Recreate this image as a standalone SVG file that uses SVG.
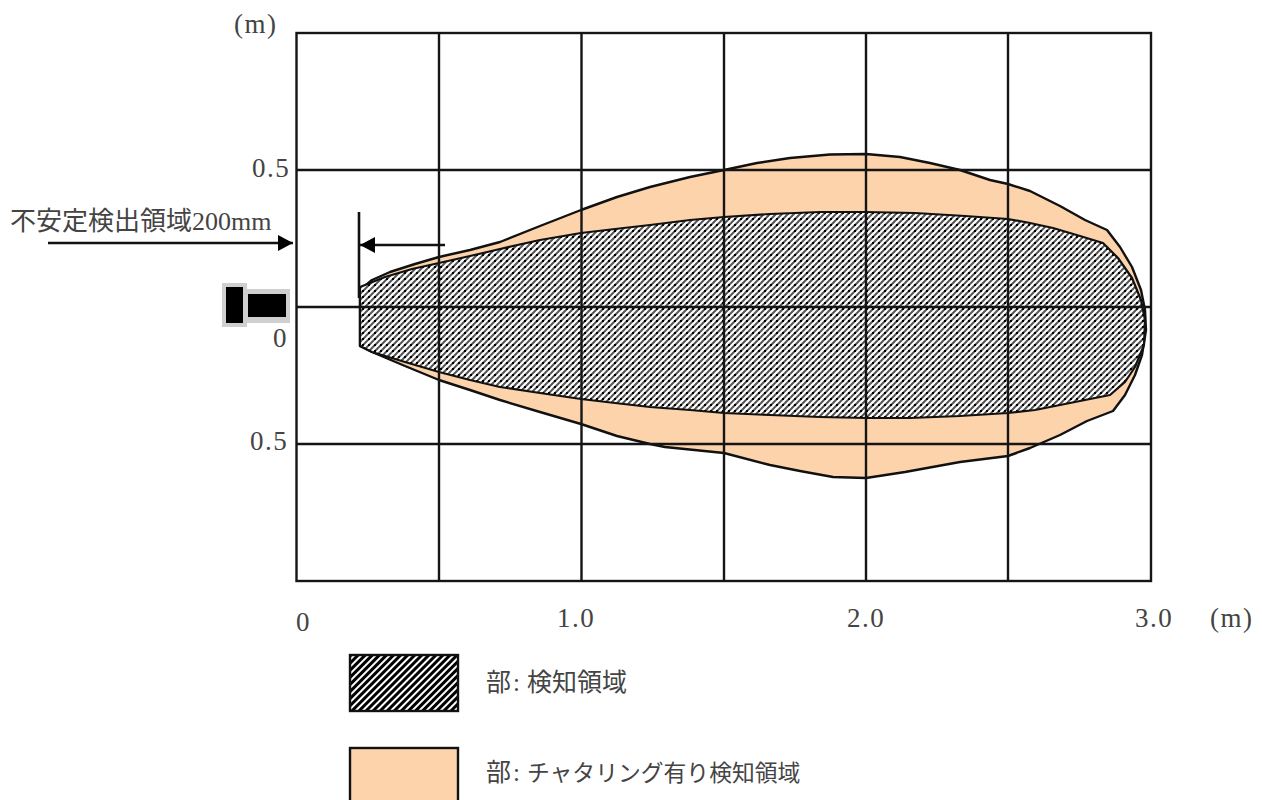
<svg xmlns="http://www.w3.org/2000/svg" width="1262" height="800" viewBox="0 0 1262 800">
<defs>
<pattern id="hatch" width="6" height="6" patternUnits="userSpaceOnUse">
<rect width="6" height="6" fill="#fff"/>
<path d="M-1,7 L7,-1 M-1,1 L1,-1 M5,7 L7,5" stroke="#555" stroke-width="2" fill="none"/>
<rect x="2" y="2" width="2" height="2" fill="#000"/>
</pattern>
<pattern id="hatch2" width="8" height="5" patternUnits="userSpaceOnUse" patternTransform="rotate(-45)">
<rect width="8" height="5" fill="#000"/>
<rect y="3" width="8" height="2" fill="#fff"/>
</pattern>
<marker id="arrow" markerUnits="userSpaceOnUse" markerWidth="15" markerHeight="16" refX="15" refY="8" orient="auto">
<path d="M0,0 L15,8 L0,16 Z" fill="#000"/>
</marker>
</defs>
<style>
text{font-family:"Liberation Serif","Noto Sans CJK JP",serif;fill:#444}
.n{font-size:27px;letter-spacing:1.500px}
.grid{stroke:#151515;stroke-width:2.400;fill:none}
.edge{stroke:#111;stroke-width:2.600;fill:none}
</style>
<rect width="1262" height="800" fill="#fff"/>

<g id="outer-area">
<polygon points="360,290 372,280 390,272 415,264 439,257 470,250 500,242 540,226 581,210 617,197 650,187 690,177 724,170 757,163 790,158 830,154.500 866,154 900,157 930,163 960,170 990,180 1008,184 1030,191 1060,206 1085,220 1107,230 1120,247 1132,267 1141,290 1145,310 1146,330 1142,355 1135,375 1125,395 1113,411 1087,421 1060,435 1030,448 1008,456 1000,457 960,462 905,472 866,478 833,477 800,471 770,465 724,453 665,447 650,444 617,436 581,424 540,412 500,400 470,390 439,380 405,366 372,352 360,346" fill="#fdd3ac" stroke="#111" stroke-width="2.400" stroke-linejoin="round"/>
</g>
<g id="inner-area">
<polygon points="360,287 385,277 412,269 439,263 470,256 500,249 540,240 581,233 615,229 650,225 690,220 724,217 770,214 820,212 866,212 915,213 965,216 1008,219 1030,223 1053,228 1080,236 1103,243 1118,258 1132,278 1141,300 1145,320 1144,345 1135,367 1125,382 1110,395 1085,400 1060,405 1035,410 1008,413 960,416 910,418 866,418 820,417 770,415 724,413 690,410 650,407 615,403 581,399 540,393 500,387 470,380 439,372 405,362 372,352 360,346" fill="url(#hatch)" stroke="#111" stroke-width="2.200" stroke-linejoin="round"/>
</g>

<g id="grid">
<rect class="grid" x="296.500" y="33" width="854.500" height="548"/>
<path class="grid" d="M439,33V581 M581.500,33V581 M724,33V581 M866,33V581 M1008,33V581 M296,170H1151 M296,307H1151 M296,444H1151"/>
</g>

<g id="sensor">
<rect x="222" y="283" width="25" height="44" fill="#cfcfcf"/>
<rect x="245" y="289" width="45" height="34" fill="#cfcfcf"/>
<rect x="226" y="287" width="17" height="36" fill="#000"/>
<rect x="248" y="294" width="38" height="23" fill="#000"/>
</g>

<g id="connectors">
<path class="edge" d="M48,243H293" marker-end="url(#arrow)"/>
<path class="edge" d="M445,245H360" marker-end="url(#arrow)"/>
<path class="edge" d="M359,212V298"/>
</g>

<g id="labels">
<text class="n" x="234" y="33">(m)</text>
<text class="n" x="252" y="177">0.5</text>
<text class="n" x="273" y="347">0</text>
<text class="n" x="250" y="450">0.5</text>
<text class="n" x="296" y="631">0</text>
<text class="n" x="557" y="627">1.0</text>
<text class="n" x="847" y="627">2.0</text>
<text class="n" x="1135" y="627">3.0</text>
<text class="n" x="1210" y="627">(m)</text>
<text x="10" y="230" font-size="26">不安定検出領域200mm</text>
</g>

<g id="legend-detect">
<rect x="350" y="655" width="108" height="56" fill="url(#hatch2)" stroke="#111" stroke-width="2.400"/>
<text x="486" y="691" font-size="25">部<tspan x="513">:</tspan><tspan x="527">検知領域</tspan></text>
</g>
<g id="legend-chatter">
<rect x="350" y="748" width="108" height="56" fill="#fdd3ac" stroke="#111" stroke-width="2.400"/>
<text x="486" y="781" font-size="25">部<tspan x="513">:</tspan><tspan x="527" font-size="22.800">チャタリング有り検知領域</tspan></text>
</g>
</svg>
